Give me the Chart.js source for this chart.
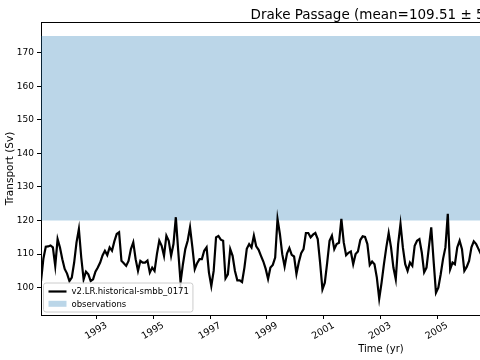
<!DOCTYPE html>
<html>
<head>
<meta charset="utf-8">
<script src="https://cdn.jsdelivr.net/npm/chart.js@4/dist/chart.umd.min.js"></script>
<style>
html, body { margin: 0; padding: 0; background: #fff; }
#wrap { width: 480px; height: 360px; position: relative; }
</style>
</head>
<body>
<div id="wrap"><canvas id="myChart"></canvas></div>
<script>
// Monthly transport of the model run, starting Jan 1991 (Sv)
const startYear = 1991;
const transport = [
  102, 108.7, 112.2, 112.3, 112.6, 112, 106.5, 114.5, 112, 108.5, 105.6, 104.2,
  102, 103, 107.5, 113.5, 117.5, 109, 102.5, 104.8, 104, 102, 102.5, 104.8,
  106, 107.5, 109.6, 111, 109.7, 112, 111, 113.8, 116, 116.5, 108, 107.3,
  106.5, 108, 111.5, 113.5, 108.5, 105, 108, 107.5, 107.5, 108.1, 104.5, 106,
  105, 110, 114, 112.5, 109.5, 115.5, 114, 109.5, 113, 121, 111, 101.6,
  107, 111.5, 114, 118, 112, 105.5, 107.3, 108.5, 108.5, 111, 112, 104.5,
  100.5, 105, 115, 115.4, 114.3, 114, 102.8, 104, 111.5, 109.5, 105, 102.2,
  102.2, 101.7, 106, 111.6, 113, 112, 115.5, 112.3, 111.3, 109.5, 107.8, 105.6,
  102.6, 106, 106.8, 109, 120.5, 116, 110, 106.3, 110.2, 111.8, 109.8, 109.3,
  104.1, 107.6, 110.3, 111.5, 116.3, 116.3, 115, 115.8, 116.3, 114.5, 107.5, 99.5,
  101.5, 107.5, 114, 115.5, 111.5, 113, 113.4, 120.5, 113.5, 109.7, 110.4, 110.8,
  107, 110, 110.8, 114.2, 115.3, 115.1, 113, 106.8, 107.8, 107, 103, 96.7,
  101.5, 107, 112, 116.3, 112, 106, 102.5, 113, 119, 112, 107, 105,
  107.5, 106.5, 112.5, 114, 114.5, 110.5, 104.6, 106, 112, 118, 108, 98.5,
  100, 104, 108.6, 112, 122, 105.5, 107.5, 107, 112, 114, 111.5, 105,
  106.2, 108, 112, 113.8, 113, 111.5, 110
];
// observed range (Sv)
const obsRange = [120, 175];

const xTickYears = [1993, 1995, 1997, 1999, 2001, 2003, 2005];
const yTickValues = [100, 110, 120, 130, 140, 150, 160, 170];

const modelName = 'v2.LR.historical-smbb_0171';
const obsName = 'observations';
const titleText = 'Drake Passage (mean=109.51 \u00b1 5.27)';
const xLabel = 'Time (yr)';
const yLabel = 'Transport (Sv)';

// axis limits (figure is cut at the right, axes run on to 2015)
const xMin = 1991.04, xMax = 2006.51, xFullMax = 2015.0;
const yMin = 91.87, yMax = 179.15;

const font = 'DejaVu Sans';
const obsColor = 'rgba(31, 119, 180, 0.3)';

const modelPoints = transport.map((v, i) => ({ x: startYear + (i + 0.5) / 12, y: v }));
const obsPoints = [{ x: 1990, y: obsRange[1] }, { x: 2016, y: obsRange[1] }];

const decorations = {
  id: 'decorations',
  afterDatasetsDraw(chart) {
    const { ctx, chartArea } = chart;
    const ds = chart.data.datasets;
    ctx.save();
    ctx.font = '8.5px "' + font + '"';
    const textW = Math.max(...ds.map(d => ctx.measureText(d.label).width));
    const bx = chartArea.left + 2.5, bw = 5 + 18 + 5 + textW + 4;
    const bh = 29, by = chartArea.bottom - 3 - bh;
    ctx.beginPath();
    ctx.roundRect(bx, by, bw, bh, 2.5);
    ctx.fillStyle = 'rgba(255,255,255,0.8)';
    ctx.fill();
    ctx.strokeStyle = '#cccccc';
    ctx.lineWidth = 1;
    ctx.stroke();
    const rows = [ds[0], ds[1]];
    rows.forEach((d, k) => {
      const cy = by + 8.5 + k * 12.3;
      if (d.fill) {
        ctx.fillStyle = d.backgroundColor;
        ctx.fillRect(bx + 5, cy - 3, 18, 6);
      } else {
        ctx.beginPath();
        ctx.moveTo(bx + 5, cy);
        ctx.lineTo(bx + 23, cy);
        ctx.strokeStyle = d.borderColor;
        ctx.lineWidth = d.borderWidth;
        ctx.stroke();
      }
      ctx.fillStyle = '#000';
      ctx.textBaseline = 'middle';
      ctx.textAlign = 'left';
      ctx.fillText(d.label, bx + 28, cy + 0.5);
    });
    ctx.restore();
  },
  afterDraw(chart) {
    const { ctx, chartArea, scales } = chart;
    ctx.save();
    // top spine
    ctx.beginPath();
    ctx.moveTo(chartArea.left, chartArea.top + 0.5);
    ctx.lineTo(chartArea.right, chartArea.top + 0.5);
    ctx.strokeStyle = '#000';
    ctx.lineWidth = 1;
    ctx.stroke();
    // title and x label are centred on the full axes
    const cx = scales.x.getPixelForValue((xMin + xFullMax) / 2);
    ctx.fillStyle = '#000';
    ctx.textAlign = 'center';
    ctx.textBaseline = 'alphabetic';
    ctx.font = '13.5px "' + font + '"';
    ctx.fillText(titleText, cx, 18.5);
    ctx.font = '10px "' + font + '"';
    ctx.fillText(xLabel, cx, 352);
    ctx.restore();
  }
};

const chartConfig = {
  type: 'line',
  data: {
    datasets: [
      {
        label: modelName,
        data: modelPoints,
        borderColor: '#000',
        borderWidth: 2.2,
        pointRadius: 0,
        tension: 0,
        fill: false,
        order: 0
      },
      {
        label: obsName,
        data: obsPoints,
        borderWidth: 0,
        borderColor: 'rgba(0,0,0,0)',
        backgroundColor: obsColor,
        pointRadius: 0,
        fill: { value: obsRange[0] },
        order: 1
      }
    ]
  },
  options: {
    responsive: true,
    maintainAspectRatio: false,
    animation: false,
    layout: { padding: { top: 22, left: 0, right: 0, bottom: 0 }, autoPadding: false },
    plugins: {
      legend: { display: false },
      title: { display: false },
      tooltip: { enabled: false }
    },
    scales: {
      x: {
        type: 'linear',
        min: xMin,
        max: xMax,
        afterBuildTicks: (scale) => { scale.ticks = xTickYears.map(v => ({ value: v })); },
        afterFit: (scale) => { scale.height = 45; },
        grid: { drawOnChartArea: false, tickLength: 4, color: '#000', tickWidth: 1 },
        border: { display: true, color: '#000', width: 1 },
        ticks: {
          minRotation: 30,
          maxRotation: 30,
          labelOffset: 10,
          padding: 1,
          color: '#000',
          font: { family: font, size: 9.5 },
          callback: (v) => String(v)
        }
      },
      y: {
        type: 'linear',
        min: yMin,
        max: yMax,
        afterBuildTicks: (scale) => { scale.ticks = yTickValues.map(v => ({ value: v })); },
        afterFit: (scale) => { scale.width = 41; },
        grid: { drawOnChartArea: false, tickLength: 4, color: '#000', tickWidth: 1 },
        border: { display: true, color: '#000', width: 1 },
        title: {
          display: true,
          text: yLabel,
          color: '#000',
          font: { family: font, size: 10.5 },
          padding: { top: 4, bottom: 0 }
        },
        ticks: {
          padding: 3,
          color: '#000',
          font: { family: font, size: 9 },
          callback: (v) => String(v)
        }
      }
    }
  },
  plugins: [decorations]
};

const myChart = new Chart(document.getElementById('myChart'), chartConfig);
</script>
</body>
</html>
